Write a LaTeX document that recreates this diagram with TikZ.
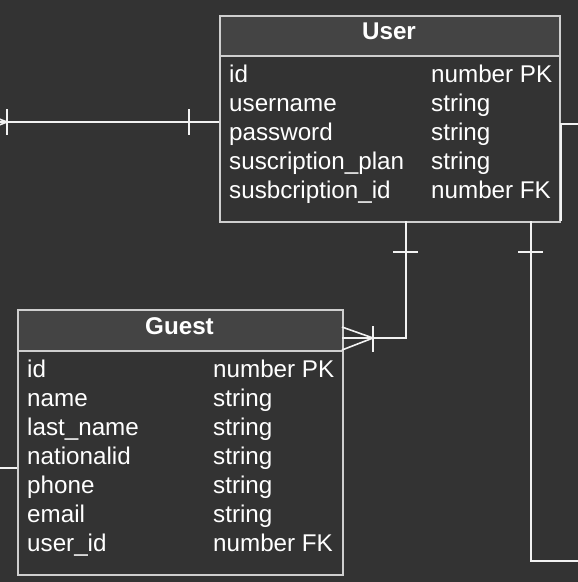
\documentclass[tikz,border=0pt]{standalone}
\usepackage{fontspec}
\setmainfont{Liberation Sans}
\definecolor{bgc}{HTML}{333333}
\definecolor{hdrc}{HTML}{444444}
\definecolor{bordc}{HTML}{CFCFCF}
\definecolor{linec}{HTML}{F2F2F2}
\begin{document}
\begin{tikzpicture}[x=1pt,y=-1pt,
  entbox/.style={draw=bordc, line width=1.6pt, fill=bgc, rectangle, inner sep=0pt, anchor=north west},
  hdrbox/.style={draw=bordc, line width=1.6pt, fill=hdrc, rectangle, inner sep=0pt, anchor=north west},
  ttl/.style={text=white, font=\fontsize{24.2}{27}\selectfont\bfseries, anchor=base, inner sep=0pt},
  fld/.style={text=white, font=\fontsize{24.2}{27}\selectfont, anchor=base west, inner sep=0pt},
  conn/.style={draw=linec, line width=1.6pt},
]
\fill[bgc] (0,0) rectangle (578,582);
\useasboundingbox (0,0) rectangle (578,582);
\clip (0,0) rectangle (578,582);

% ---------- User entity
\node[entbox, minimum width=340pt, minimum height=206pt] (user) at (219,15) {};
\node[hdrbox, minimum width=340pt, minimum height=40pt] (userhdr) at (219,15) {};
\node[ttl] (usert) at (389,39.5) {User};
\node[fld] (u1a) at (229,82.5) {id};
\node[fld] (u1b) at (431,82.5) {number PK};
\node[fld] (u2a) at (229,111.5) {username};
\node[fld] (u2b) at (431,111.5) {string};
\node[fld] (u3a) at (229,140.5) {password};
\node[fld] (u3b) at (431,140.5) {string};
\node[fld] (u4a) at (229,169.5) {suscription\_plan};
\node[fld] (u4b) at (431,169.5) {string};
\node[fld] (u5a) at (229,198.5) {susbcription\_id};
\node[fld] (u5b) at (431,198.5) {number FK};

% ---------- Guest entity
\node[entbox, minimum width=325pt, minimum height=265pt] (guest) at (17,309) {};
\node[hdrbox, minimum width=325pt, minimum height=41pt] (guesthdr) at (17,309) {};
\node[ttl] (guestt) at (179.5,334.5) {Guest};
\node[fld] (g1a) at (27,377) {id};
\node[fld] (g1b) at (213,377) {number PK};
\node[fld] (g2a) at (27,406) {name};
\node[fld] (g2b) at (213,406) {string};
\node[fld] (g3a) at (27,435) {last\_name};
\node[fld] (g3b) at (213,435) {string};
\node[fld] (g4a) at (27,464) {nationalid};
\node[fld] (g4b) at (213,464) {string};
\node[fld] (g5a) at (27,493) {phone};
\node[fld] (g5b) at (213,493) {string};
\node[fld] (g6a) at (27,522.5) {email};
\node[fld] (g6b) at (213,522.5) {string};
\node[fld] (g7a) at (27,551.5) {user\_id};
\node[fld] (g7b) at (213,551.5) {number FK};

% ---------- coordinates for connectors
\coordinate (lft) at (-40,122);
\coordinate (ul) at (219,122);
\coordinate (ub1) at (406,221);
\coordinate (gr1) at (342,338);
\coordinate (ub2) at (531,221);
\coordinate (br) at (590,561);
\coordinate (rt) at (590,124);
\coordinate (rtc) at (561,124);
\coordinate (rtb) at (561,221);
\coordinate (glft) at (-10,468);
\coordinate (gl) at (17,468);

% left connector (to User)
\draw[conn] (lft) -- (ul);
\draw[conn] (7,109) -- (7,135);
\draw[conn] (189,109) -- (189,135);
\draw[conn] (-24,110) -- (7,122) -- (-24,134);

% User -> Guest
\draw[conn] (ub1) |- (gr1);
\draw[conn] (393,252) -- (418,252);
\draw[conn] (373,326) -- (373,352);
\draw[conn] (342,327) -- (373,338) -- (342,350);

% User -> right bottom
\draw[conn] (ub2) |- (br);
\draw[conn] (518,252) -- (543,252);

% right top connector
\draw[conn] (rt) -- (rtc) -- (rtb);

% Guest left connector
\draw[conn] (glft) -- (gl);
\end{tikzpicture}
\end{document}
